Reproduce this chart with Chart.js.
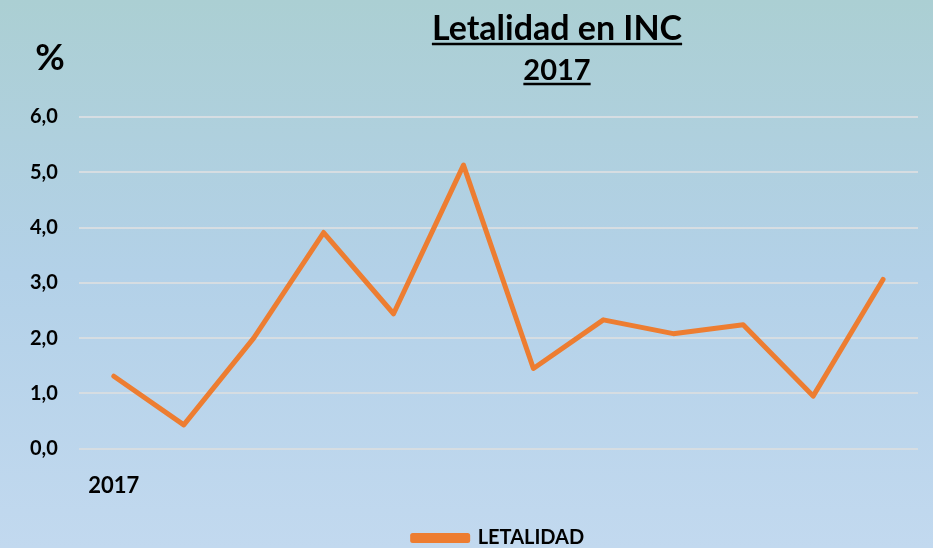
<!DOCTYPE html>
<html>
<head>
<meta charset="utf-8">
<script src="https://cdn.jsdelivr.net/npm/chart.js@4"></script>
<style>
  html, body { margin: 0; padding: 0; }
  body { width: 933px; height: 548px; background: linear-gradient(#abcfd3, #b3d1e8 50%, #c2d9ef); }
  #wrap { position: relative; width: 933px; height: 548px; }
</style>
</head>
<body>
<div id="wrap"><canvas id="chart"></canvas></div>
<script>
// Datos
const meses = ['2017', '', '', '', '', '', '', '', '', '', '', ''];
const letalidad = [1.31, 0.43, 2.0, 3.91, 2.44, 5.13, 1.45, 2.33, 2.08, 2.24, 0.95, 3.06];
const tituloLineas = ['Letalidad en INC', '2017'];
const unidad = '%';

const FONT = 'Lato, "Open Sans", sans-serif';

// Títulos subrayados y el símbolo de %
const titulosPlugin = {
    id: 'titulos',
    afterDraw(chart) {
        const ctx = chart.ctx;
        ctx.save();
        ctx.fillStyle = '#000';
        ctx.strokeStyle = '#000';
        ctx.textAlign = 'center';
        ctx.textBaseline = 'alphabetic';

        const cx = 557;
        const filas = [
            { texto: tituloLineas[0], size: 34, y: 40 },
            { texto: tituloLineas[1], size: 29, y: 80 }
        ];
        filas.forEach(f => {
            ctx.font = `bold ${f.size}px ${FONT}`;
            ctx.fillText(f.texto, cx, f.y);
            const w = ctx.measureText(f.texto).width;
            ctx.lineWidth = 2.5;
            ctx.beginPath();
            ctx.moveTo(cx - w / 2, f.y + 4);
            ctx.lineTo(cx + w / 2, f.y + 4);
            ctx.stroke();
        });

        ctx.font = `bold 36px ${FONT}`;
        ctx.fillText(unidad, 50, 70);
        ctx.restore();
    }
};

new Chart(document.getElementById('chart'), {
    type: 'line',
    data: {
        labels: meses,
        datasets: [{
            label: 'LETALIDAD',
            data: letalidad,
            borderColor: '#ED7D31',
            backgroundColor: '#ED7D31',
            borderWidth: 5,
            pointRadius: 0,
            tension: 0,
            borderCapStyle: 'round',
            borderJoinStyle: 'round'
        }]
    },
    options: {
        responsive: true,
        maintainAspectRatio: false,
        animation: false,
        layout: { padding: { top: 117, left: 9, right: 15, bottom: -10 } },
        plugins: {
            title: { display: false },
            tooltip: { enabled: false },
            legend: {
                position: 'bottom',
                fullSize: false,
                labels: {
                    color: '#000',
                    font: { family: FONT, size: 20, weight: 'bold' },
                    boxWidth: 55,
                    boxHeight: 5,
                    padding: 2
                }
            }
        },
        scales: {
            x: {
                offset: true,
                grid: { display: false, drawTicks: false },
                border: { display: false },
                afterFit: s => { s.height += 3; },
                ticks: {
                    color: '#000',
                    font: { family: FONT, size: 22, weight: 'bold' },
                    maxRotation: 0,
                    autoSkip: false,
                    padding: 24
                }
            },
            y: {
                min: 0,
                max: 6,
                grid: { color: '#d6dde2', lineWidth: 2, drawTicks: false },
                border: { display: false },
                ticks: {
                    stepSize: 1,
                    color: '#000',
                    padding: 21,
                    font: { family: FONT, size: 20, weight: 'bold' },
                    callback: v => v.toFixed(1).replace('.', ',')
                }
            }
        }
    },
    plugins: [titulosPlugin]
});
</script>
</body>
</html>
